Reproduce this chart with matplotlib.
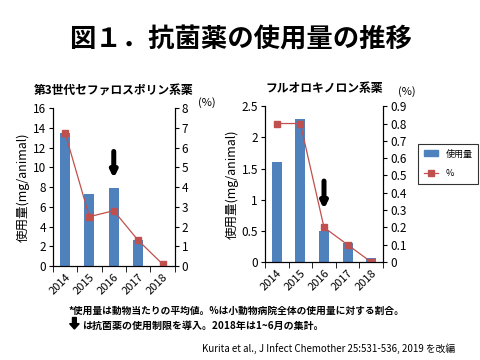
import numpy as np
import matplotlib
matplotlib.use('Agg')
import matplotlib.pyplot as plt
from matplotlib.lines import Line2D
from matplotlib.patches import Patch

plt.rcParams['font.family'] = ['Noto Sans CJK JP', 'DejaVu Sans']

# data
years = ['2014', '2015', '2016', '2017', '2018']
ceph_amount = [13.5, 7.3, 7.9, 2.6, 0.0]
ceph_pct = [6.75, 2.5, 2.8, 1.3, 0.1]
fq_amount = [1.6, 2.3, 0.5, 0.3, 0.07]
fq_pct = [0.8, 0.8, 0.2, 0.1, 0.0]

bar_color = '#4F81BD'
line_color = '#C0504D'

fig = plt.figure(figsize=(4.8, 3.6), dpi=100)
fig.text(0.5, 0.888, '図１．抗菌薬の使用量の推移', ha='center', va='center',
         fontsize=19, fontweight='bold')


def make_panel(rect, title, amount, pct, ylim, pct_lim, yticks, pct_ticks, arrow_y):
    ax = fig.add_axes(rect)
    x = np.arange(len(years))
    ax.bar(x, amount, width=0.42, color=bar_color, zorder=2)
    ax2 = ax.twinx()
    ax2.plot(x, pct, color=line_color, lw=0.9, marker='s', ms=4,
             markerfacecolor=line_color, markeredgecolor=line_color)
    ax.set_xlim(-0.5, len(years) - 0.5)
    ax.set_ylim(*ylim)
    ax2.set_ylim(*pct_lim)
    ax.set_yticks(yticks)
    ax2.set_yticks(pct_ticks)
    ax.set_xticks(x)
    ax.set_xticklabels(years, rotation=45, ha='right', rotation_mode='anchor', fontsize=8)
    ax.set_xticks(np.arange(len(years) + 1) - 0.5, minor=True)
    ax.tick_params(axis='x', which='major', length=0, pad=4)
    ax.tick_params(axis='x', which='minor', length=4, direction='out')
    ax.tick_params(axis='y', labelsize=8.5, length=3, pad=2)
    ax2.tick_params(axis='y', labelsize=8.5, length=3, pad=2)
    for a in (ax, ax2):
        a.spines['top'].set_visible(False)
        for s in a.spines.values():
            s.set_linewidth(0.8)
    ax.set_ylabel('使用量(mg/animal)', fontsize=9, labelpad=2)
    ax.set_title(title, fontsize=8.5, fontweight='bold', pad=10)
    # arrow marking the start of restrictions (2016)
    ax.annotate('', xy=(2, arrow_y[1]), xytext=(2, arrow_y[0]),
                arrowprops=dict(arrowstyle='-|>', color='black', lw=3.6,
                                mutation_scale=9, shrinkA=0, shrinkB=0))
    return ax, ax2


ax, ax2 = make_panel([0.110, 0.261, 0.254, 0.439], '第3世代セファロスポリン系薬',
                     ceph_amount, ceph_pct, (0, 16), (0, 8),
                     np.arange(0, 17, 2), np.arange(0, 9, 1), (11.6, 8.9))
fig.text(0.43, 0.715, '(%)', fontsize=8, ha='center', va='center')

bx, bx2 = make_panel([0.552, 0.272, 0.246, 0.433], 'フルオロキノロン系薬',
                     fq_amount, fq_pct, (0, 2.5), (0, 0.9),
                     [0, 0.5, 1, 1.5, 2, 2.5], np.round(np.arange(0, 0.95, 0.1), 1),
                     (1.3, 0.85))
bx.set_yticklabels(['0', '0.5', '1', '1.5', '2', '2.5'])
bx2.set_yticklabels(['0'] + ['%.1f' % v for v in np.arange(0.1, 0.95, 0.1)])
fig.text(0.848, 0.745, '(%)', fontsize=8, ha='center', va='center')

handles = [Patch(color=bar_color),
           Line2D([], [], color=line_color, marker='s', ms=4, lw=0.9)]
leg = fig.legend(handles, ['使用量', '%'], loc='center left',
                 bbox_to_anchor=(0.862, 0.545), fontsize=6.5, frameon=True,
                 fancybox=False, edgecolor='black', handlelength=1.6,
                 labelspacing=1.2, borderpad=0.6)
leg.get_frame().set_linewidth(0.8)

fig.text(0.143, 0.136, '*使用量は動物当たりの平均値。%は小動物病院全体の使用量に対する割合。',
         fontsize=7.0, fontweight='bold', va='center')
fig.text(0.171, 0.095, 'は抗菌薬の使用制限を導入。2018年は1~6月の集計。',
         fontsize=7.2, fontweight='bold', va='center')
fig.patches.append(matplotlib.patches.FancyArrow(
    0.155, 0.118, 0, -0.032, width=0.008, head_width=0.02, head_length=0.015,
    length_includes_head=True, color='black', transform=fig.transFigure))
fig.text(0.948, 0.033, 'Kurita et al., J Infect Chemother 25:531-536, 2019 を改編',
         fontsize=7.0, ha='right', va='center')

fig.savefig('out.png', dpi=100)
